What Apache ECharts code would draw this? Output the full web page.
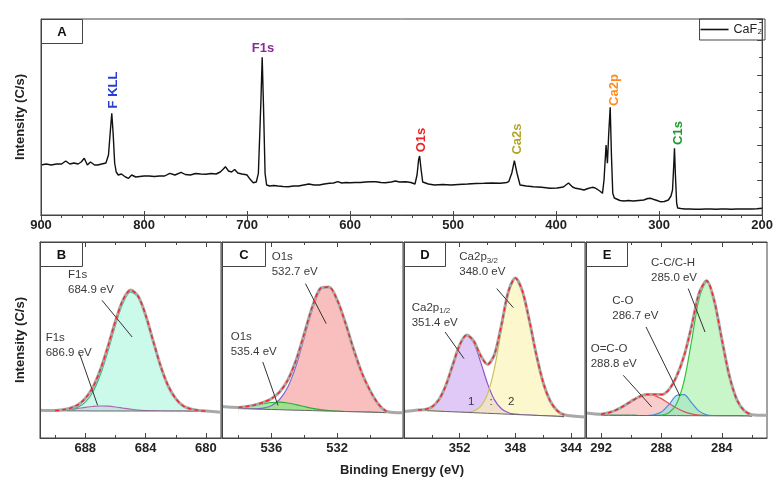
<!DOCTYPE html>
<html>
<head>
<meta charset="utf-8">
<script src="https://cdn.jsdelivr.net/npm/echarts@6/dist/echarts.min.js"></script>
<style>
html, body { margin: 0; background: #fff; }
#chart { width: 776px; height: 480px; }
</style>
</head>
<body>
<div id="chart"></div>
<script>
// ---- survey spectrum (panel A) ----
const surveyEV = [900, 895, 890, 885, 880, 876, 872, 868, 864, 861, 858, 855, 852, 848, 845, 841, 837, 834.5, 833, 831.3, 830, 828.5, 827, 825, 822, 818, 815, 812, 808, 804, 800, 795, 790, 785, 780, 775, 770, 764, 760, 755, 750, 745, 740, 735, 730, 726, 723, 721, 718, 715, 712, 709, 705, 702, 700, 697, 694, 691, 689, 686.5, 685.3, 684, 682.5, 681, 678, 674, 670, 665, 660, 655, 650, 645, 640, 635, 630, 625, 620, 616, 612, 608, 604, 600, 595, 590, 585, 580, 575, 570, 566, 560, 556, 552, 546, 541, 537, 535, 533.5, 532.5, 531, 529.5, 528, 524, 518, 510, 502, 495, 486, 478, 470, 462, 454, 448, 446, 443, 440.5, 438, 435, 429, 422, 414, 406, 399, 393, 388, 384, 381, 377, 373, 369, 365, 362, 360, 357, 355, 353.5, 351.5, 350.2, 349, 347.5, 346.3, 345, 343.5, 342, 338, 334, 330, 325, 320, 315, 311, 308, 305, 302, 299, 295, 291, 288.5, 287, 285.8, 285.1, 284.2, 283, 282, 279, 275, 270, 265, 260, 255, 250, 245, 240, 235, 230, 225, 220, 215, 210, 205, 200];
const surveyCounts = [50, 51, 50, 51, 51, 54, 51, 52, 51, 53, 56.7, 50, 53, 50, 50, 51, 52, 60, 80, 101.7, 82, 52, 43, 40, 41, 38, 36.7, 40, 38, 38.5, 39, 39, 38.5, 39, 39, 41.7, 40, 42.7, 40.5, 40, 41.5, 41, 40.7, 41.5, 41, 43, 46, 48.3, 44, 43, 45.5, 42, 41, 40.5, 40, 35.7, 32.3, 33, 41.7, 115, 157.7, 108, 41.7, 30, 29, 29.5, 29, 28.5, 28.3, 29, 29, 30, 31, 30, 30, 31, 31.7, 32, 33.3, 32, 32.5, 32.3, 32.5, 32.5, 33, 33.3, 33.3, 32.5, 32.3, 33, 34, 33, 33.3, 32.5, 31, 40, 55, 59, 45, 33, 31.7, 31, 30, 30.5, 30, 30.5, 31, 31.5, 31.7, 32, 31.7, 32.5, 33.3, 42, 54.3, 42, 30, 29, 28.3, 27.7, 26.7, 27, 28, 32, 28, 26.7, 26, 25, 26.5, 27.7, 27, 25.7, 23.5, 21.7, 35, 70, 51.7, 80, 107.7, 60, 21.7, 17, 15, 14.5, 14, 14.5, 14, 14.5, 15, 16.5, 16.7, 15.5, 14.5, 13.3, 13.5, 15, 19, 25, 50, 66.7, 40, 12, 7, 6.5, 6, 6, 5.7, 5.7, 6, 6, 5.7, 6, 6, 5.8, 6, 6, 6, 6, 6.3, 6.7];

// ---- panel B : F1s ----
const bEV = [690, 689.5, 689, 688.5, 688, 687.5, 687, 686.5, 686, 685.5, 685, 684.5, 684, 683.5, 683, 682.5, 682, 681.5, 681, 680.5, 680];
const bMain = [27, 27.4, 28.3, 30.6, 35.9, 46, 63.2, 86.5, 112.8, 135, 146, 141, 122.6, 97, 71.8, 52, 39.3, 32, 29, 27.6, 27];
const bSmall = [27.4, 27.8, 28.5, 29.5, 30.6, 31.5, 32, 31.8, 31, 29.9, 28.9, 28, 27.5, 27.2, 27, 27, 27, 27, 27, 27, 27];
const bEnv = [27.4, 28.2, 29.8, 33.1, 39.5, 50.5, 68.2, 91.3, 116.8, 137.9, 147.9, 142, 123.1, 97.2, 71.8, 52, 39.3, 32, 29, 27.6, 27];
const bBase = [27.2, 27.2, 27.1, 27.1, 27.1, 27, 27, 27, 27, 27, 27, 27, 27, 27, 27, 26.9, 26.9, 26.9, 26.8, 26.8, 26.8];
const bEdges = [[691, 27.7], [679, 25.8]];

// ---- panel C : O1s ----
const cEV = [538, 537.5, 537, 536.5, 536, 535.5, 535, 534.5, 534, 533.5, 533, 532.5, 532, 531.5, 531, 530.5, 530, 529.5, 529];
const cMain = [29.4, 29.3, 29.2, 29.9, 32.3, 38.5, 51, 72.1, 100.4, 129.3, 148.6, 150.7, 137.8, 114.9, 88.5, 65, 47.4, 34, 26.5];
const cSmall = [30.6, 31.5, 32.8, 34.3, 35.5, 35.8, 35, 33.4, 31.5, 29.7, 28.3, 27.4, 26.9, 26.5, 26.2, 26, 25.8, 25.6, 25.4];
const cEnv = [30.6, 31.6, 33.1, 35.5, 39.3, 46, 58, 77.7, 104.3, 131.6, 149.8, 151, 138, 115, 88.5, 65, 47.4, 34, 26.5];
const cBase = [29.4, 29.2, 28.9, 28.7, 28.5, 28.3, 28, 27.8, 27.6, 27.4, 27.1, 26.9, 26.7, 26.5, 26.2, 26, 25.8, 25.6, 25.4];
const cEdges = [[539, 31.5], [528, 25.2]];

// ---- panel D : Ca2p ----
const dEV = [355, 354.5, 354, 353.5, 353, 352.5, 352, 351.5, 351, 350.5, 350, 349.5, 349, 348.5, 348, 347.5, 347, 346.5, 346, 345.5, 345, 344.5];
const dHalf = [27.95, 28.5, 31.1, 38.2, 52.4, 72.9, 93, 102.6, 95.5, 76.1, 54.4, 38.1, 29.2, 25.3, 23.85, 23.2, 22.9, 22.6, 22.3, 22, 21.7, 21.4];
const dThreeHalf = [27.7, 27.4, 27.1, 26.8, 26.5, 26.2, 25.9, 25.9, 26.9, 31.3, 43.9, 69.9, 108.2, 145, 159.5, 147, 117.7, 83.6, 55.3, 37, 27.4, 23.2];
const dEnv = [27.95, 28.5, 31.1, 38.2, 52.4, 72.9, 93, 102.9, 97.1, 82.4, 73.6, 83.6, 113.3, 146.5, 159.9, 147, 117.7, 83.6, 55.3, 37, 27.4, 23.2];
const dBase = [27.7, 27.4, 27.1, 26.8, 26.5, 26.2, 25.9, 25.6, 25.3, 25, 24.7, 24.4, 24.1, 23.8, 23.5, 23.2, 22.9, 22.6, 22.3, 22, 21.7, 21.4];
const dEdges = [[356, 26.5], [343, 21]];

// ---- panel E : C1s ----
const eEV = [292, 291.5, 291, 290.5, 290, 289.5, 289, 288.5, 288, 287.5, 287, 286.5, 286, 285.5, 285, 284.5, 284, 283.5, 283, 282.5, 282];
const eOCO = [23.8, 25.3, 28, 32, 36.8, 41, 43.4, 42.7, 39.4, 34.6, 30, 26.4, 24.2, 23, 22.5, 22.2, 22.1, 22.1, 22.1, 22, 22];
const eCO = [22.7, 22.7, 22.6, 22.6, 22.6, 22.5, 22.5, 23.2, 25.9, 33.4, 42.4, 43.4, 35.2, 26.9, 23.2, 22.3, 22.1, 22.1, 22.1, 22, 22];
const eCC = [22.7, 22.7, 22.6, 22.6, 22.6, 22.5, 22.5, 22.5, 22.9, 25.2, 33.9, 56.8, 97, 139.5, 155.9, 137.2, 99.1, 62.3, 38.4, 27.2, 23.3];
const eEnv = [23.8, 25.3, 28, 32, 36.8, 41, 43.4, 43.4, 43.4, 48.4, 61.5, 82, 111.8, 144.9, 157.2, 137.3, 99.1, 62.3, 38.4, 27.2, 23.3];
const eBase = [22.7, 22.7, 22.6, 22.6, 22.6, 22.5, 22.5, 22.5, 22.4, 22.4, 22.4, 22.3, 22.3, 22.3, 22.2, 22.2, 22.1, 22.1, 22.1, 22, 22];
const eEdges = [[293, 25], [281, 22.7]];

const font = "'Liberation Sans', Arial, 'DejaVu Sans', sans-serif";
const pairs = (xs, ys) => xs.map((x, i) => [x, ys[i]]);

// panel layout
const panels = [
    { left: 40, min: 679, max: 691, major: [688, 684, 680], minor: [690, 686, 682],
      ev: bEV, env: bEnv, base: bBase, edges: bEdges,
      comps: [
          { v: bSmall, fill: 'rgba(214,150,214,0.6)', line: '#b066b0' },
          { v: bMain, fill: 'rgba(175,247,222,0.65)', line: '#3db38c' }
      ],
      leaders: [[[686.89, 137.7], [684.89, 101]], [[688.38, 84.4], [687.18, 32.7]]] },
    { left: 222, min: 528, max: 539, major: [536, 532], minor: [538, 534, 530],
      ev: cEV, env: cEnv, base: cBase, edges: cEdges,
      comps: [
          { v: cMain, fill: 'rgba(247,170,170,0.75)', line: '#7d6ad6' },
          { v: cSmall, fill: 'rgba(130,232,130,0.75)', line: '#2fae2f' }
      ],
      leaders: [[[533.93, 154.4], [532.67, 114.4]], [[536.52, 76], [535.6, 32.7]]] },
    { left: 404, min: 343, max: 356, major: [352, 348, 344], minor: [354, 350, 346],
      ev: dEV, env: dEnv, base: dBase, edges: dEdges,
      comps: [
          { v: dHalf, fill: 'rgba(208,170,242,0.65)', line: '#9252d4' },
          { v: dThreeHalf, fill: 'rgba(250,242,172,0.6)', line: '#c9c25a' }
      ],
      leaders: [[[349.34, 149.4], [348.15, 130.4]], [[353.05, 106], [351.69, 79.4]]] },
    { left: 586, min: 281, max: 293, major: [292, 288, 284], minor: [290, 286, 282],
      ev: eEV, env: eEnv, base: eBase, edges: eEdges,
      comps: [
          { v: eOCO, fill: 'rgba(246,172,172,0.6)', line: '#e05252' },
          { v: eCO, fill: 'rgba(160,214,240,0.65)', line: '#4b8fd2' },
          { v: eCC, fill: 'rgba(165,240,165,0.6)', line: '#36c036' }
      ],
      leaders: [[[286.22, 149.4], [285.11, 106]], [[289.02, 111], [286.77, 42]], [[290.53, 62.7], [288.64, 31]]] }
];

const tickLabel = { fontFamily: font, fontWeight: 'bold', fontSize: 13, color: '#222' };
const axisLine = { lineStyle: { color: '#444', width: 1 } };

let grids = [{ left: 41, top: 19, width: 724, height: 196, show: true, borderColor: '#444', borderWidth: 1 }];
let xAxes = [
    { gridIndex: 0, type: 'value', inverse: true, min: 200, max: 900, interval: 100, z: 10,
      axisLine: axisLine, axisTick: { inside: true, length: 4, lineStyle: { color: '#444' } },
      axisLabel: Object.assign({ margin: 4 }, tickLabel), splitLine: { show: false } },
    { gridIndex: 0, type: 'value', inverse: true, min: 200, max: 900, interval: 100, position: 'top', z: 10,
      axisLine: axisLine, axisTick: { inside: true, length: 5, lineStyle: { color: '#444' } },
      minorTick: { show: true, splitNumber: 5, length: 3, lineStyle: { color: '#444' } },
      axisLabel: { show: false }, splitLine: { show: false } }
];
let yAxes = [
    { gridIndex: 0, type: 'value', min: 0, max: 196, z: 10, axisLine: Object.assign({ show: true }, axisLine),
      axisTick: { show: false }, axisLabel: { show: false }, splitLine: { show: false },
      name: 'Intensity (C/s)', nameLocation: 'middle', nameGap: 14,
      nameTextStyle: { fontFamily: font, fontWeight: 'bold', fontSize: 13, color: '#222' } },
    { gridIndex: 0, type: 'value', min: 0, max: 196, interval: 35, position: 'right', z: 10,
      axisLine: Object.assign({ show: true }, axisLine),
      axisTick: { inside: true, length: 5, lineStyle: { color: '#444' } },
      minorTick: { show: true, splitNumber: 2, length: 3, lineStyle: { color: '#444' } },
      axisLabel: { show: false }, splitLine: { show: false } }
];
let series = [{
    type: 'line', name: 'CaF₂', xAxisIndex: 0, yAxisIndex: 0,
    data: pairs(surveyEV, surveyCounts), symbol: 'none', z: 3,
    lineStyle: { color: '#111', width: 1.4 }, itemStyle: { color: '#111' }
}];

panels.forEach((p, i) => {
    const gi = i + 1;
    const floor = Math.min.apply(null, p.base);
    grids.push({ left: p.left, top: 242, width: 181, height: 196, show: true, borderColor: '#444', borderWidth: 1 });
    const xi = xAxes.length;
    const ax = (pos, vals, len, labels) => ({
        gridIndex: gi, type: 'value', inverse: true, min: p.min, max: p.max, position: pos, z: 10,
        axisLine: labels ? axisLine : { show: false },
        axisTick: { inside: true, length: len, customValues: vals, lineStyle: { color: '#444' } },
        axisLabel: labels ? Object.assign({ margin: 4, customValues: vals }, tickLabel) : { show: false },
        splitLine: { show: false }
    });
    xAxes.push(ax('bottom', p.major, 5, true), ax('bottom', p.minor, 3, false),
        Object.assign(ax('top', p.major, 5, false), { axisLine: axisLine }), ax('top', p.minor, 3, false));
    const yi = yAxes.length;
    yAxes.push({
        gridIndex: gi, type: 'value', min: 0, max: 196, z: 10,
        axisLine: Object.assign({ show: true }, axisLine), axisTick: { show: false },
        axisLabel: { show: false }, splitLine: { show: false },
        name: i === 0 ? 'Intensity (C/s)' : '', nameLocation: 'middle', nameGap: 13,
        nameTextStyle: { fontFamily: font, fontWeight: 'bold', fontSize: 13, color: '#222' }
    });
    p.comps.forEach(c => series.push({
        type: 'line', xAxisIndex: xi, yAxisIndex: yi, data: pairs(p.ev, c.v), symbol: 'none',
        smooth: 0.3, z: 2, lineStyle: { color: c.line, width: 1.2 },
        areaStyle: { color: c.fill, opacity: 1, origin: floor }
    }));
    // background (baseline): hides the fill that lies under the sloped baseline
    series.push({
        type: 'line', xAxisIndex: xi, yAxisIndex: yi, data: pairs(p.ev, p.base), symbol: 'none',
        z: 3, lineStyle: { color: '#666', width: 1 }, areaStyle: { color: '#fff', opacity: 1, origin: floor - 2 }
    });
    series.push({
        type: 'line', xAxisIndex: xi, yAxisIndex: yi, symbol: 'none', smooth: 0.3, z: 4,
        data: [p.edges[0]].concat(pairs(p.ev, p.env), [p.edges[1]]),
        lineStyle: { color: '#a8a8a8', width: 3 }
    });
    series.push({
        type: 'line', xAxisIndex: xi, yAxisIndex: yi, data: pairs(p.ev, p.env), symbol: 'none',
        smooth: 0.3, z: 5, lineStyle: { color: '#ee2a2a', width: 1.5, type: [4, 3] },
        markLine: {
            silent: true, symbol: ['none', 'none'], label: { show: false },
            lineStyle: { color: '#333', width: 1, type: 'solid' },
            data: p.leaders.map(l => [{ coord: l[0] }, { coord: l[1] }])
        }
    });
});

// ---- labels and annotations ----
const boxes = [['A', 41, 19, 41, 24], ['B', 40, 242, 42, 24], ['C', 222, 242, 43, 24], ['D', 404, 242, 41, 24], ['E', 586, 242, 41, 24]];
const peakLabels = [
    ['F KLL', 113, 90, '#2a3fd0', true], ['F1s', 263, 48, '#8a2a9a', false], ['O1s', 421, 140, '#f02020', true],
    ['Ca2s', 517, 139, '#b3a62a', true], ['Ca2p', 614, 90, '#ff8a1e', true], ['C1s', 678, 133, '#1f9a2a', true]
];
const notes = [
    ['F1s\n684.9 eV', 68, 267], ['F1s\n686.9 eV', 45.7, 330],
    ['O1s\n532.7 eV', 271.7, 249.5], ['O1s\n535.4 eV', 230.7, 329],
    ['Ca2p{s|3/2}\n348.0 eV', 459.3, 249.5], ['Ca2p{s|1/2}\n351.4 eV', 411.7, 300],
    ['C-C/C-H\n285.0 eV', 651, 255], ['C-O\n286.7 eV', 612.3, 293], ['O=C-O\n288.8 eV', 590.7, 341],
    ['1', 468, 394], [':', 489.5, 394], ['2', 508, 394]
];

let graphic = [];
boxes.forEach(b => {
    graphic.push({ type: 'rect', z: 100, shape: { x: b[1] + 0.5, y: b[2] + 0.5, width: b[3], height: b[4] },
        style: { fill: '#fff', stroke: '#444', lineWidth: 1 } });
    graphic.push({ type: 'text', z: 101, x: b[1] + b[3] / 2 + 0.5, y: b[2] + b[4] / 2 + 1,
        style: { text: b[0], fill: '#111', font: 'bold 13px ' + font, align: 'center', verticalAlign: 'middle' } });
});
peakLabels.forEach(l => graphic.push({
    type: 'text', z: 100, x: l[1], y: l[2], rotation: l[4] ? Math.PI / 2 : 0,
    style: { text: l[0], fill: l[3], font: 'bold 13px ' + font, align: 'center', verticalAlign: 'middle' }
}));
notes.forEach(n => graphic.push({
    type: 'text', z: 100, x: n[1], y: n[2],
    style: { text: n[0], fill: '#3a3a3a', font: '11.5px ' + font, lineHeight: 15, align: 'left', verticalAlign: 'top',
        rich: { s: { fontSize: 8, lineHeight: 9, verticalAlign: 'bottom', fill: '#3a3a3a', fontFamily: font } } }
}));
graphic.push({ type: 'text', z: 100, x: 402, y: 470,
    style: { text: 'Binding Energy (eV)', fill: '#222', font: 'bold 13px ' + font, align: 'center', verticalAlign: 'middle' } });

const chart = echarts.init(document.getElementById('chart'), null, { renderer: 'canvas' });
chart.setOption({
    animation: false,
    backgroundColor: '#fff',
    textStyle: { fontFamily: font },
    grid: grids,
    xAxis: xAxes,
    yAxis: yAxes,
    legend: {
        data: [{ name: 'CaF₂', icon: 'rect' }], right: 11, top: 19, borderColor: '#444', borderWidth: 1, borderRadius: 0,
        padding: [4, 3, 4, 1], itemWidth: 28, itemHeight: 1.6, itemGap: 3,
        itemStyle: { color: '#111' },
        textStyle: { color: '#222', fontSize: 12.5, fontFamily: font }
    },
    series: series,
    graphic: graphic
});
</script>
</body>
</html>
